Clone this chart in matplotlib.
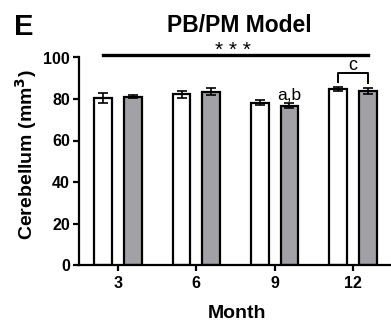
import matplotlib
matplotlib.use("Agg")
import matplotlib.pyplot as plt
import numpy as np

plt.rcParams['font.family'] = ['Liberation Sans', 'DejaVu Sans']

months = ["3", "6", "9", "12"]
control_mean = [80.5, 82.2, 78.3, 84.7]
control_err = [2.3, 1.6, 1.4, 1.0]
model_mean = [81.1, 83.6, 76.7, 84.0]
model_err = [0.8, 1.8, 1.2, 1.5]

W, H = 391, 326
fig = plt.figure(figsize=(W / 100, H / 100), dpi=100)
ax = fig.add_axes([79 / W, 61 / H, 313 / W, 207.5 / H])

x = np.arange(len(months))
w = 0.225
off = 0.19
ax.bar(x - off, control_mean, w, color='white', edgecolor='black', linewidth=1.6, zorder=2)
ax.bar(x + off, model_mean, w, color='#a2a2a6', edgecolor='black', linewidth=1.6, zorder=2)
ax.errorbar(x - off, control_mean, yerr=control_err, fmt='none', ecolor='black',
            elinewidth=1.2, capsize=3.8, capthick=1.2, zorder=3)
ax.errorbar(x + off, model_mean, yerr=model_err, fmt='none', ecolor='black',
            elinewidth=1.2, capsize=3.8, capthick=1.2, zorder=3)

ax.set_xlim(-0.5, 3.5)
ax.set_ylim(0, 100)
ax.set_xticks(x)
ax.set_xticklabels(months)
ax.set_yticks([0, 20, 40, 60, 80, 100])
for s in ['top', 'right']:
    ax.spines[s].set_visible(False)
for s in ['left', 'bottom']:
    ax.spines[s].set_linewidth(1.6)
ax.tick_params(width=1.6, length=4, labelsize=11.5)
ax.tick_params(axis='x', pad=4)
ax.tick_params(axis='y', pad=2.5)
for lab in ax.get_xticklabels() + ax.get_yticklabels():
    lab.set_fontweight('bold')

fig.text(237 / W, 1 - 318 / H, 'Month', fontsize=14, fontweight='bold',
         ha='center', va='baseline')
fig.text(26 / W, 1 - 155 / H, 'Cerebellum (mm$^\\mathbf{3}$)', fontsize=14,
         fontweight='bold', rotation=90, ha='center', va='center')
fig.text(239 / W, 1 - 32 / H, 'PB/PM Model', fontsize=16.5, fontweight='bold',
         ha='center', va='baseline')
fig.text(14 / W, 1 - 35 / H, 'E', fontsize=21, fontweight='bold', ha='left', va='baseline')

# overall significance line across all groups
ax.plot([x[0] - off, x[-1] + off], [101.2, 101.2], color='black', lw=2.4, clip_on=False)
fig.text(233 / W, 1 - 56 / H, '* * *', ha='center', va='baseline', fontsize=15)

# letter annotations
ax.text(x[2] + off, 79.5, 'a,b', ha='center', va='baseline', fontsize=12.5)
yb = 92.5
ax.plot([x[3] - off, x[3] - off, x[3] + off, x[3] + off],
        [88.3, yb, yb, 87.7], color='black', lw=1.4, clip_on=False)
ax.text(x[3], 94.0, 'c', ha='center', va='baseline', fontsize=13)

fig.savefig('out.png', dpi=100)
